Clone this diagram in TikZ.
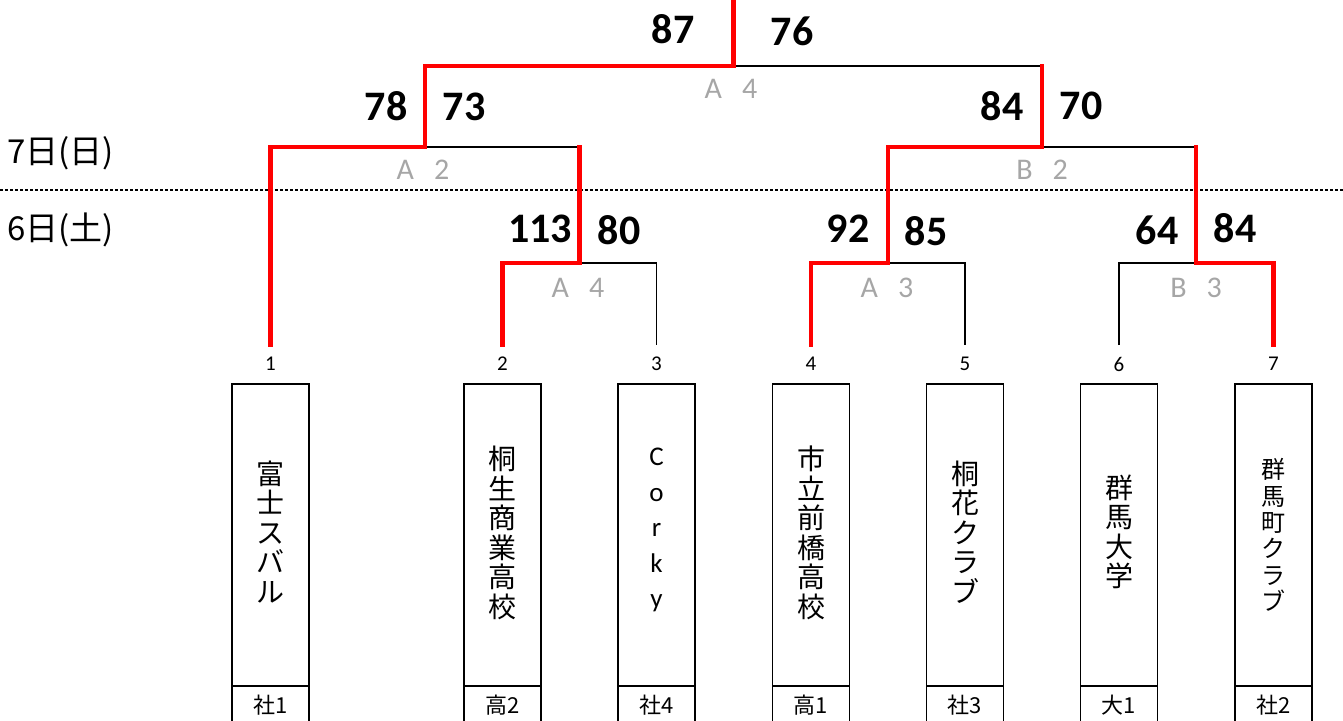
\documentclass[tikz,border=0pt]{standalone}
\usepackage{fontspec}
\setmainfont{Carlito}
\newfontfamily\jp{Noto Sans CJK JP}
\definecolor{gameGray}{HTML}{A6A6A6}
\begin{document}
\begin{tikzpicture}[x=1pt,y=-1pt,
  wire/.style={line width=1.3pt, line join=miter},
  win/.style={line width=4.5pt, red, line cap=rect, line join=miter},
  score/.style={font=\fontsize{42}{42}\selectfont\bfseries, inner sep=0},
  game/.style={font=\fontsize{30}{30}\selectfont, text=gameGray, inner sep=0},
  day/.style={font=\jp\fontsize{33}{33}\selectfont, inner sep=0, anchor=west},
  seed/.style={font=\fontsize{21}{21}\selectfont, inner sep=0},
  teambox/.style={draw, line width=1.3pt, minimum width=77pt, minimum height=302pt, inner sep=0},
  catbox/.style={draw, line width=1.3pt, minimum width=77pt, minimum height=39pt, inner sep=0},
  cat/.style={font=\jp\fontsize{22}{22}\selectfont, inner sep=0},
  tname/.style={font=\jp\fontsize{28}{29.5}\selectfont, align=center, inner sep=0},
  tsmall/.style={font=\jp\fontsize{24}{26.4}\selectfont, align=center, inner sep=0},
  tlatin/.style={font=\fontsize{27}{35.5}\selectfont, align=center, inner sep=0}
]
\useasboundingbox (0,0) rectangle (1343,720);
\clip (0,0) rectangle (1343,720);

% day labels and divider
\node[day] (d7) at (7,153) {7日(日)};
\node[day] (d6) at (7,230) {6日(土)};
\coordinate (dl) at (0,190);
\coordinate (dr) at (1343,190);
\draw[line width=1.5pt, dash pattern=on 2.5pt off 2.5pt] (dl) -- (dr);

% team columns
\foreach \i/\x in {1/270.5,2/502.5,3/656.5,4/811,5/965,6/1119,7/1273.5}{
  \node[teambox] (t\i) at (\x,535) {};
  \node[catbox] (c\i) at (\x,705.5) {};
  \node[seed] (n\i) at (\x,364) {\i};
  \coordinate (p\i) at (\x,345);
}
\node[cat] (k1) at (270.5,705) {社1};
\node[cat] (k2) at (502.5,705) {高2};
\node[cat] (k3) at (656.5,705) {社4};
\node[cat] (k4) at (811,705) {高1};
\node[cat] (k5) at (965,705) {社3};
\node[cat] (k6) at (1119,705) {大1};
\node[cat] (k7) at (1273.5,705) {社2};

\node[tname] (m1) at (270.5,532) {富\\士\\ス\\バ\\ル};
\node[tname] (m2) at (502.5,533) {桐\\生\\商\\業\\高\\校};
\node[tlatin] (m3) at (656.5,530) {C\\o\\r\\k\\y};
\node[tname] (m4) at (811,533) {市\\立\\前\\橋\\高\\校};
\node[tname] (m5) at (965,532) {桐\\花\\ク\\ラ\\ブ};
\node[tname] (m6) at (1119,532) {群\\馬\\大\\学};
\node[tsmall] (m7) at (1273.5,535) {群\\馬\\町\\ク\\ラ\\ブ};

% junctions
\coordinate (j23) at (579.5,263);
\coordinate (j45) at (888,263);
\coordinate (j67) at (1196,263);
\coordinate (s1) at (425,147);
\coordinate (s2) at (1042,147);
\coordinate (f) at (733.5,66);
\coordinate (ftop) at (733.5,-10);

% bracket (thin)
\draw[wire] (p2) |- (j23) -| (p3);
\draw[wire] (p4) |- (j45) -| (p5);
\draw[wire] (p6) |- (j67) -| (p7);
\draw[wire] (p1) |- (s1) -| (j23);
\draw[wire] (j45) |- (s2) -| (j67);
\draw[wire] (s1) |- (f) -| (s2);
\draw[wire] (f) -- (ftop);

% winners (red)
\draw[win] (p1) |- (s1) |- (f) -- (ftop);
\draw[win] (p2) |- (j23) -- (j23 |- s1);
\draw[win] (p4) |- (j45) |- (s2) -- (s2 |- f);
\draw[win] (p7) |- (j67) -- (j67 |- s2);

% scores
\node[score] (sf1) at (673,29) {87};
\node[score] (sf2) at (792,31) {76};
\node[score] (ss1) at (386,106) {78};
\node[score] (ss2) at (464,107) {73};
\node[score] (ss3) at (1002,106) {84};
\node[score] (ss4) at (1081,106) {70};
\node[score] (sr1) at (540,229) {113};
\node[score] (sr2) at (619,230) {80};
\node[score] (sr3) at (848,229) {92};
\node[score] (sr4) at (926,231) {85};
\node[score] (sr5) at (1157,230) {64};
\node[score] (sr6) at (1235,228) {84};

% game labels
\node[game] (gf) at (731,89) {A\hspace{20pt}4};
\node[game] (gs1) at (423,170) {A\hspace{20pt}2};
\node[game] (gs2) at (1042,170) {B\hspace{20pt}2};
\node[game] (gr1) at (578,288) {A\hspace{20pt}4};
\node[game] (gr2) at (887,288) {A\hspace{20pt}3};
\node[game] (gr3) at (1196,288) {B\hspace{20pt}3};
\end{tikzpicture}
\end{document}
